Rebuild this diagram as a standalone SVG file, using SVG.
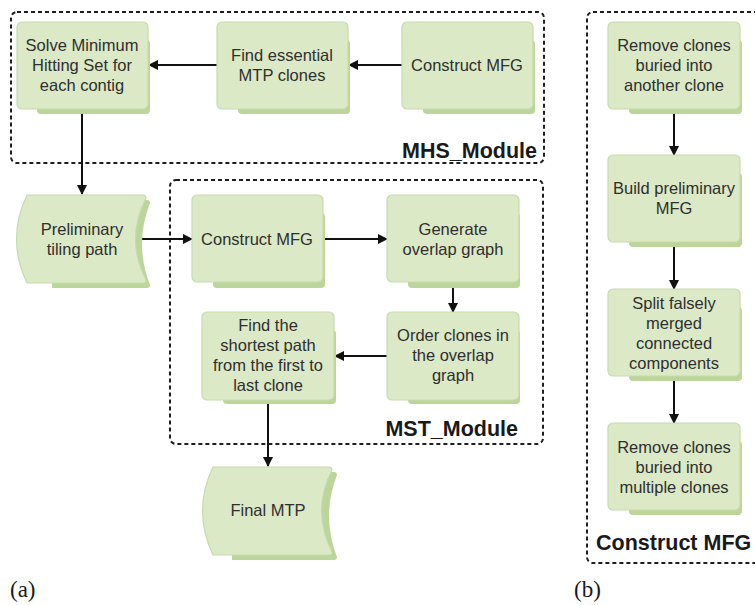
<svg xmlns="http://www.w3.org/2000/svg" width="755" height="605" viewBox="0 0 755 605">
<style>
.bg{fill:#ffffff}
.node{fill:#dbe9c6;stroke:#c6dcaa;stroke-width:1.2}
.shadow{fill:#bcd59a}
.t{font-family:"Liberation Sans",Arial,sans-serif;font-size:16.5px;fill:#2f2f2f;text-anchor:middle}
.lab{font-family:"Liberation Sans",Arial,sans-serif;font-size:21.5px;font-weight:bold;fill:#1a1a1a}
.cap{font-family:"Liberation Serif","Times New Roman",serif;font-size:23px;fill:#1a1a1a}
.mod{fill:none;stroke:#1e1e1e;stroke-width:2;stroke-dasharray:4 3}
.c{fill:none;stroke:#111111;stroke-width:2}
</style>
<defs>
<marker id="ah" markerWidth="10" markerHeight="10" refX="9" refY="5" orient="auto" markerUnits="userSpaceOnUse">
<path d="M0,0 L10,5 L0,10 Z" fill="#111111"/>
</marker>
</defs>
<rect class="bg" x="0" y="0" width="755" height="605"/>

<g id="modules">
<rect id="MHS_Module" class="mod" x="11" y="12" width="533" height="151" rx="6"/>
<text class="lab" x="537" y="158" text-anchor="end">MHS_Module</text>
<rect id="MST_Module" class="mod" x="170" y="180" width="373" height="264" rx="6"/>
<text class="lab" x="518" y="436" text-anchor="end">MST_Module</text>
<rect id="Construct_MFG_Module" class="mod" x="587" y="12" width="200" height="551" rx="6"/>
<text class="lab" x="596" y="550">Construct MFG</text>
</g>

<g id="connectors">
<line class="c" x1="402" y1="65" x2="349" y2="65" marker-end="url(#ah)"/>
<line class="c" x1="217" y1="65" x2="149" y2="65" marker-end="url(#ah)"/>
<line class="c" x1="82" y1="109" x2="82" y2="194" marker-end="url(#ah)"/>
<line class="c" x1="136" y1="239" x2="192" y2="239" marker-end="url(#ah)"/>
<line class="c" x1="323" y1="239" x2="387" y2="239" marker-end="url(#ah)"/>
<line class="c" x1="453" y1="288" x2="453" y2="312" marker-end="url(#ah)"/>
<line class="c" x1="387" y1="356" x2="335" y2="356" marker-end="url(#ah)"/>
<line class="c" x1="268" y1="400" x2="268" y2="466" marker-end="url(#ah)"/>
<line class="c" x1="674" y1="108" x2="674" y2="155" marker-end="url(#ah)"/>
<line class="c" x1="674" y1="247" x2="674" y2="289" marker-end="url(#ah)"/>
<line class="c" x1="674" y1="381" x2="674" y2="423" marker-end="url(#ah)"/>
</g>

<g id="solve_mhs">
<rect class="shadow" x="37" y="40" width="113" height="74" rx="4"/>
<rect class="node" x="17" y="22" width="131" height="87" rx="5"/>
<text class="t" x="82" y="51">Solve Minimum</text>
<text class="t" x="82" y="71">Hitting Set for</text>
<text class="t" x="82" y="91">each contig</text>
</g>

<g id="find_essential">
<rect class="shadow" x="238" y="40" width="112" height="74" rx="4"/>
<rect class="node" x="217" y="22" width="131" height="87" rx="5"/>
<text class="t" x="282" y="61">Find essential</text>
<text class="t" x="282" y="81">MTP clones</text>
</g>

<g id="construct_mfg_top">
<rect class="shadow" x="423" y="40" width="112" height="74" rx="4"/>
<rect class="node" x="402" y="22" width="131" height="87" rx="5"/>
<text class="t" x="467" y="71">Construct MFG</text>
</g>

<g id="preliminary_tiling_path">
<path class="shadow" d="M52,200 L147,200 Q150,200 150,203 Q134,244 150,285 Q150,288 147,288 L52,288 Z"/>
<path class="node" d="M27,195 L143,195 Q146,195 146,198 Q125,239 146,280 Q146,283 143,283 L27,283 Q6,239 27,195 Z"/>
<text class="t" x="82" y="235">Preliminary</text>
<text class="t" x="82" y="255">tiling path</text>
</g>

<g id="construct_mfg_mid">
<rect class="shadow" x="213" y="213" width="112" height="75" rx="4"/>
<rect class="node" x="192" y="195" width="131" height="87" rx="5"/>
<text class="t" x="257" y="245">Construct MFG</text>
</g>

<g id="generate_overlap">
<rect class="shadow" x="408" y="213" width="112" height="75" rx="4"/>
<rect class="node" x="387" y="195" width="132" height="87" rx="5"/>
<text class="t" x="453" y="235">Generate</text>
<text class="t" x="453" y="255">overlap graph</text>
</g>

<g id="order_clones">
<rect class="shadow" x="408" y="330" width="112" height="74" rx="4"/>
<rect class="node" x="387" y="312" width="132" height="88" rx="5"/>
<text class="t" x="453" y="341">Order clones in</text>
<text class="t" x="453" y="361">the overlap</text>
<text class="t" x="453" y="381">graph</text>
</g>

<g id="find_shortest_path">
<rect class="shadow" x="223" y="330" width="113" height="74" rx="4"/>
<rect class="node" x="202" y="312" width="132" height="88" rx="5"/>
<text class="t" x="268" y="331">Find the</text>
<text class="t" x="268" y="351">shortest path</text>
<text class="t" x="268" y="371">from the first to</text>
<text class="t" x="268" y="391">last clone</text>
</g>

<g id="final_mtp">
<path class="shadow" d="M232,472 L334,472 Q337,472 337,475 Q321,516 337,557 Q337,560 334,560 L232,560 Z"/>
<path class="node" d="M213,467 L329,467 Q332,467 332,470 Q311,511 332,552 Q332,555 329,555 L213,555 Q192,511 213,467 Z"/>
<text class="t" x="268" y="516">Final MTP</text>
</g>

<g id="remove_buried_another">
<rect class="shadow" x="629" y="40" width="113" height="74" rx="4"/>
<rect class="node" x="608" y="22" width="132" height="87" rx="5"/>
<text class="t" x="674" y="51">Remove clones</text>
<text class="t" x="674" y="71">buried into</text>
<text class="t" x="674" y="91">another clone</text>
</g>

<g id="build_preliminary_mfg">
<rect class="shadow" x="629" y="173" width="113" height="74" rx="4"/>
<rect class="node" x="608" y="155" width="132" height="87" rx="5"/>
<text class="t" x="674" y="194">Build preliminary</text>
<text class="t" x="674" y="214">MFG</text>
</g>

<g id="split_falsely_merged">
<rect class="shadow" x="629" y="307" width="113" height="74" rx="4"/>
<rect class="node" x="608" y="289" width="132" height="87" rx="5"/>
<text class="t" x="674" y="309">Split falsely</text>
<text class="t" x="674" y="329">merged</text>
<text class="t" x="674" y="349">connected</text>
<text class="t" x="674" y="369">components</text>
</g>

<g id="remove_buried_multiple">
<rect class="shadow" x="629" y="441" width="113" height="74" rx="4"/>
<rect class="node" x="608" y="423" width="132" height="87" rx="5"/>
<text class="t" x="674" y="453">Remove clones</text>
<text class="t" x="674" y="473">buried into</text>
<text class="t" x="674" y="493">multiple clones</text>
</g>

<g id="captions">
<text class="cap" x="10" y="597">(a)</text>
<text class="cap" x="574" y="597">(b)</text>
</g>
</svg>
